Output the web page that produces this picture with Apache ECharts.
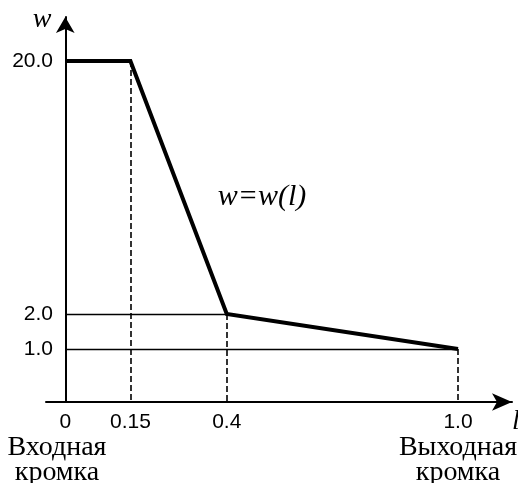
<!DOCTYPE html>
<html>
<head>
<meta charset="utf-8">
<script src="https://cdn.jsdelivr.net/npm/echarts@6/dist/echarts.min.js"></script>
<style>
  html, body { margin: 0; padding: 0; background: #fff; }
  #chart { width: 518px; height: 483px; }
</style>
</head>
<body>
<div id="chart"></div>
<script>
// Blade width parameter w along the relative chord position l
const lValues = [0, 0.15, 0.4, 1.0];
const wValues = [20.0, 20.0, 2.0, 1.0];

// Tick positions and their printed labels
const xTickValues = [0, 0.15, 0.4, 1.0];
const xTickLabels = ['0', '0.15', '0.4', '1.0'];
const yTickValues = [1.0, 2.0, 20.0];
const yTickLabels = ['1.0', '2.0', '20.0'];

const SANS = '"Liberation Sans", Arial, sans-serif';
const SERIF = '"Liberation Serif", "Times New Roman", serif';

const points = lValues.map((l, i) => [l, wValues[i]]);

// Dashed drops from each corner of the curve down to the l axis
const drops = points.slice(1).map(p => [
  { coord: [p[0], p[1]], lineStyle: { type: [6, 3], width: 1.6, color: '#000' } },
  { coord: [p[0], 0] }
]);
// Thin leaders from the w axis to the lower corners
const leaders = points.slice(2).map(p => [
  { coord: [0, p[1]], lineStyle: { type: 'solid', width: 1.4, color: '#000' } },
  { coord: [p[0], p[1]] }
]);

const chart = echarts.init(document.getElementById('chart'), null, { renderer: 'canvas' });

chart.setOption({
  animation: false,
  backgroundColor: '#fff',
  grid: { left: 46, right: 6, top: 17, bottom: 81, containLabel: false, outerBoundsMode: 'none' },
  xAxis: {
    type: 'value',
    min: -0.05,
    max: 1.14,
    // slightly widened leading-edge span
    breaks: [
      { start: 0.05, end: 0.1, gap: 0.069 }
    ],
    breakArea: { show: false },
    splitLine: { show: false },
    axisTick: { show: false },
    axisLine: {
      show: true,
      breakLine: false,
      symbol: ['none', 'arrow'],
      symbolSize: [13, 20],
      lineStyle: { color: '#000', width: 2 }
    },
    axisLabel: {
      customValues: xTickValues,
      formatter: v => xTickLabels[xTickValues.indexOf(v)] ?? '',
      color: '#000',
      fontFamily: SANS,
      fontSize: 21,
      margin: 10
    }
  },
  yAxis: {
    type: 'value',
    min: 0,
    max: 20.83,
    // compressed spans keep the low range readable next to the plateau at 20
    breaks: [
      { start: 1.2, end: 1.8, gap: 0.26 },
      { start: 2.5, end: 19.5, gap: 3.774 }
    ],
    breakArea: { show: false },
    splitLine: { show: false },
    axisTick: { show: false },
    axisLine: {
      show: true,
      onZero: true,
      breakLine: false,
      symbol: ['none', 'arrow'],
      symbolSize: [14, 16],
      lineStyle: { color: '#000', width: 2 }
    },
    axisLabel: {
      customValues: yTickValues,
      formatter: v => yTickLabels[yTickValues.indexOf(v)] ?? '',
      color: '#000',
      fontFamily: SANS,
      fontSize: 21,
      margin: -7
    }
  },
  series: [
    {
      type: 'line',
      data: points,
      showSymbol: false,
      symbol: 'none',
      lineStyle: { color: '#000', width: 4, join: 'miter' },
      z: 5,
      markLine: {
        silent: true,
        symbol: ['none', 'none'],
        label: { show: false },
        data: drops.concat(leaders)
      }
    }
  ],
  graphic: [
    { type: 'text', x: 42, y: 20, style: { text: 'w', font: 'italic 28px ' + SERIF, fill: '#000', textAlign: 'center', textVerticalAlign: 'middle' } },
    { type: 'text', x: 262, y: 197, style: { text: 'w=w(l)', font: 'italic 30px ' + SERIF, fill: '#000', textAlign: 'center', textVerticalAlign: 'middle' } },
    { type: 'text', x: 512, y: 422, style: { text: 'l', font: 'italic 28px ' + SERIF, fill: '#000', textAlign: 'left', textVerticalAlign: 'middle' } },
    { type: 'text', x: 57, y: 448, style: { text: 'Входная', font: '28px ' + SERIF, fill: '#000', textAlign: 'center', textVerticalAlign: 'middle' } },
    { type: 'text', x: 57, y: 473, style: { text: 'кромка', font: '28px ' + SERIF, fill: '#000', textAlign: 'center', textVerticalAlign: 'middle' } },
    { type: 'text', x: 458, y: 448, style: { text: 'Выходная', font: '28px ' + SERIF, fill: '#000', textAlign: 'center', textVerticalAlign: 'middle' } },
    { type: 'text', x: 458, y: 473, style: { text: 'кромка', font: '28px ' + SERIF, fill: '#000', textAlign: 'center', textVerticalAlign: 'middle' } }
  ]
});
</script>
</body>
</html>
